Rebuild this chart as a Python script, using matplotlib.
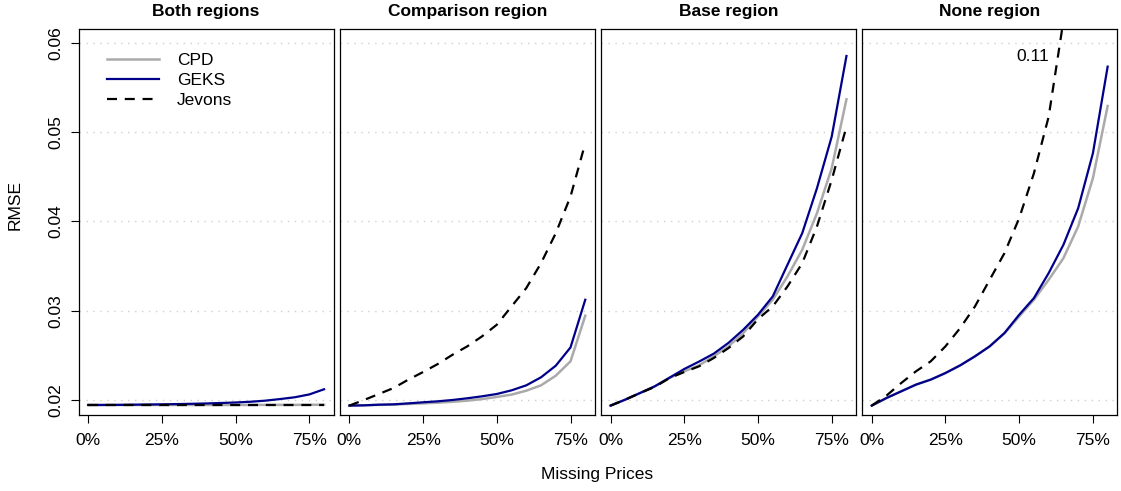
import numpy as np
import matplotlib.pyplot as plt

plt.rcParams['font.family'] = ['Liberation Sans', 'DejaVu Sans']

missing = [0.00, 0.05, 0.10, 0.15, 0.20, 0.25, 0.30, 0.35, 0.40,
           0.45, 0.50, 0.55, 0.60, 0.65, 0.70, 0.75, 0.80]
panels = ["Both regions", "Comparison region", "Base region", "None region"]

cpd_both = [0.01944, 0.01944, 0.01944, 0.01944, 0.01944, 0.01944, 0.01944, 0.01944, 0.01944,
            0.01944, 0.01944, 0.01944, 0.01945, 0.01945, 0.01945, 0.01946, 0.01947]
geks_both = [0.01944, 0.01944, 0.01945, 0.01947, 0.01949, 0.01951, 0.01954, 0.01957, 0.01961,
             0.01966, 0.01972, 0.01980, 0.01992, 0.02010, 0.02030, 0.02062, 0.02120]
jev_both = [0.01942, 0.01942, 0.01942, 0.01942, 0.01942, 0.01942, 0.01942, 0.01942, 0.01942,
            0.01942, 0.01942, 0.01942, 0.01942, 0.01942, 0.01942, 0.01942, 0.01942]

cpd_comp = [0.01937, 0.01940, 0.01945, 0.01948, 0.01955, 0.01962, 0.01970, 0.01980, 0.01992,
            0.02010, 0.02034, 0.02060, 0.02104, 0.02164, 0.02272, 0.02433, 0.02944]
geks_comp = [0.01937, 0.01940, 0.01947, 0.01951, 0.01962, 0.01974, 0.01985, 0.02000, 0.02019,
             0.02041, 0.02067, 0.02108, 0.02164, 0.02254, 0.02384, 0.02589, 0.03123]
jev_comp = [0.01937, 0.02000, 0.02067, 0.02134, 0.02228, 0.02313, 0.02403, 0.02507, 0.02601,
            0.02713, 0.02843, 0.03048, 0.03254, 0.03533, 0.03869, 0.04280, 0.04877]

cpd_base = [0.01937, 0.02004, 0.02078, 0.02153, 0.02246, 0.02321, 0.02388, 0.02489, 0.02601,
            0.02750, 0.02936, 0.03123, 0.03385, 0.03683, 0.04093, 0.04597, 0.05369]
geks_base = [0.01937, 0.02004, 0.02078, 0.02153, 0.02250, 0.02347, 0.02430, 0.02519, 0.02640,
             0.02787, 0.02955, 0.03160, 0.03515, 0.03869, 0.04373, 0.04951, 0.05854]
jev_base = [0.01937, 0.02004, 0.02078, 0.02146, 0.02246, 0.02313, 0.02377, 0.02470, 0.02582,
            0.02713, 0.02906, 0.03048, 0.03272, 0.03533, 0.03944, 0.04466, 0.05063]

cpd_none = [0.01937, 0.02022, 0.02097, 0.02172, 0.02228, 0.02302, 0.02388, 0.02489, 0.02601,
            0.02745, 0.02936, 0.03123, 0.03347, 0.03589, 0.03944, 0.04485, 0.05294]
geks_none = [0.01937, 0.02022, 0.02097, 0.02172, 0.02228, 0.02302, 0.02388, 0.02489, 0.02601,
             0.02750, 0.02955, 0.03142, 0.03422, 0.03739, 0.04149, 0.04765, 0.05735]
jev_none = [0.01937, 0.02049, 0.02190, 0.02321, 0.02433, 0.02601, 0.02806, 0.03048, 0.03347,
            0.03645, 0.04037, 0.04541, 0.05175, 0.06250, 0.07550, 0.09100, 0.11000]

cpd = [cpd_both, cpd_comp, cpd_base, cpd_none]
geks = [geks_both, geks_comp, geks_base, geks_none]
jevons = [jev_both, jev_comp, jev_base, jev_none]

W, H = 1121, 491
fs = 12.5
fig = plt.figure(figsize=(W / 100, H / 100), dpi=100)

lefts = [78.7, 339.9, 601.1, 862.3]
pw, top, bot = 254.8, 28.7, 414.7

for i, name in enumerate(panels):
    ax = fig.add_axes([lefts[i] / W, (H - bot) / H, pw / W, (bot - top) / H])
    for g in [0.02, 0.03, 0.04, 0.05, 0.06]:
        ax.axhline(g, color='#cfcfcf', lw=1, ls=(0, (1, 4)), zorder=0)
    ax.plot(missing, cpd[i], color='#aaaaaa', lw=1.8, label='CPD')
    ax.plot(missing, geks[i], color='#00008b', lw=1.6, label='GEKS')
    ax.plot(missing, jevons[i], color='black', lw=1.6, dashes=(4.5, 3.5), label='Jevons')
    ax.set_xlim(-0.032, 0.832)
    ax.set_ylim(0.01835, 0.0616)
    ax.set_xticks([0, 0.25, 0.5, 0.75])
    ax.set_xticklabels(['0%', '25%', '50%', '75%'], fontsize=fs)
    ax.tick_params(axis='x', length=6, width=0.8, pad=7)
    if i == 0:
        ax.set_yticks([0.02, 0.03, 0.04, 0.05, 0.06])
        ax.set_yticklabels(['0.02', '0.03', '0.04', '0.05', '0.06'], fontsize=fs,
                           rotation=90, va='center')
        ax.tick_params(axis='y', length=6, width=0.8, pad=5)
        ax.legend(loc='upper left', bbox_to_anchor=(0.065, 0.97), frameon=False,
                  fontsize=fs, handlelength=3.0, handletextpad=1.0, labelspacing=0.3,
                  borderaxespad=0.3)
    else:
        ax.set_yticks([])
    for s in ax.spines.values():
        s.set_linewidth(0.9)
    ax.set_title(name, fontsize=fs, fontweight='bold', pad=9)
    if i == 3:
        ax.text(0.545, 0.0585, f"{max(jev_none):.2f}", fontsize=fs, ha='center', va='center')

fig.text(15 / W, 1 - 205 / H, 'RMSE', rotation=90, fontsize=fs, ha='center', va='center')
fig.text(597.5 / W, 1 - 474 / H, 'Missing Prices', fontsize=fs, ha='center', va='center')

fig.savefig('out.png', dpi=100)
